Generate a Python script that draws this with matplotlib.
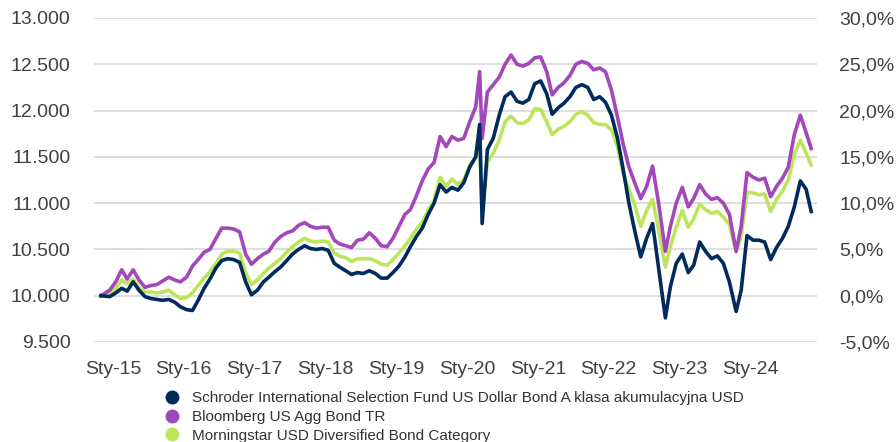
import matplotlib
matplotlib.use("Agg")
import matplotlib.pyplot as plt
from matplotlib.lines import Line2D
from matplotlib.ticker import FuncFormatter, MultipleLocator
import pandas as pd

# ---- data (index values, start = 10 000) ----
dates = ["2014-10-31", "2014-12-15",
         "2015-01-15", "2015-02-15", "2015-03-15", "2015-04-15", "2015-05-15", "2015-06-15",
         "2015-07-15", "2015-08-15", "2015-09-15", "2015-10-15", "2015-11-15", "2015-12-15",
         "2016-01-15", "2016-02-15", "2016-03-15", "2016-04-15", "2016-05-15", "2016-06-15",
         "2016-07-15", "2016-08-15", "2016-09-15", "2016-10-15", "2016-11-15", "2016-12-15",
         "2017-01-15", "2017-02-15", "2017-03-15", "2017-04-15", "2017-05-15", "2017-06-15",
         "2017-07-15", "2017-08-15", "2017-09-15", "2017-10-15", "2017-11-15", "2017-12-15",
         "2018-01-15", "2018-02-15", "2018-03-15", "2018-04-15", "2018-05-15", "2018-06-15",
         "2018-07-15", "2018-08-15", "2018-09-15", "2018-10-15", "2018-11-15", "2018-12-15",
         "2019-01-15", "2019-02-15", "2019-03-15", "2019-04-15", "2019-05-15", "2019-06-15",
         "2019-07-15", "2019-08-15", "2019-09-15", "2019-10-15", "2019-11-15", "2019-12-15",
         "2020-01-15", "2020-02-15", "2020-03-06", "2020-03-19", "2020-04-15", "2020-05-15",
         "2020-06-15", "2020-07-15", "2020-08-15", "2020-09-15", "2020-10-15", "2020-11-15",
         "2020-12-15",
         "2021-01-15", "2021-02-15", "2021-03-15", "2021-04-15", "2021-05-15", "2021-06-15",
         "2021-07-15", "2021-08-15", "2021-09-15", "2021-10-15", "2021-11-15", "2021-12-15",
         "2022-01-15", "2022-02-15", "2022-03-15", "2022-04-15", "2022-05-15", "2022-06-15",
         "2022-07-15", "2022-08-15", "2022-09-15", "2022-10-20", "2022-11-15", "2022-12-15",
         "2023-01-15", "2023-02-15", "2023-03-15", "2023-04-15", "2023-05-15", "2023-06-15",
         "2023-07-15", "2023-08-15", "2023-09-15", "2023-10-20", "2023-11-15", "2023-12-15",
         "2024-01-15", "2024-02-15", "2024-03-15", "2024-04-15", "2024-05-15", "2024-06-15",
         "2024-07-15", "2024-08-15", "2024-09-15", "2024-10-15", "2024-11-10"]

schroder = [10000, 9990,
            10030, 10080, 10050, 10150, 10060, 9990, 9970, 9960, 9950, 9960, 9930, 9880,
            9850, 9840, 9950, 10080, 10180, 10300, 10380, 10400, 10390, 10360, 10150, 10010,
            10060, 10150, 10200, 10260, 10310, 10380, 10450, 10500, 10540, 10510, 10500, 10510,
            10490, 10350, 10310, 10270, 10230, 10250, 10240, 10270, 10240, 10190, 10190, 10250,
            10320, 10420, 10530, 10640, 10730, 10880, 11000, 11200, 11120, 11170, 11140, 11220,
            11390, 11500, 11850, 10780, 11580, 11700, 11950, 12150, 12200, 12100, 12080, 12120,
            12290,
            12320, 12180, 11960, 12030, 12080, 12150, 12250, 12280, 12250, 12120, 12150, 12090,
            11950, 11700, 11380, 11000, 10700, 10420, 10620, 10780, 10300, 9760, 10100, 10350,
            10450, 10250, 10330, 10580, 10480, 10400, 10430, 10350, 10150, 9830, 10060, 10650,
            10600, 10600, 10580, 10390, 10520, 10620, 10750, 10960, 11240, 11150, 10910]

bloomberg = [10000, 10060,
             10150, 10280, 10180, 10280, 10170, 10090, 10110, 10120, 10160, 10200, 10170, 10150,
             10200, 10320, 10390, 10470, 10500, 10620, 10730, 10730, 10720, 10690, 10450, 10340,
             10400, 10450, 10480, 10580, 10640, 10680, 10700, 10760, 10790, 10750, 10730, 10740,
             10740, 10600, 10560, 10540, 10520, 10600, 10610, 10680, 10620, 10540, 10530, 10620,
             10750, 10880, 10930, 11080, 11240, 11370, 11440, 11720, 11610, 11720, 11680, 11700,
             11880, 12040, 12420, 11700, 12200, 12280, 12360, 12500, 12600, 12500, 12480, 12510,
             12570,
             12580, 12420, 12170, 12250, 12300, 12380, 12500, 12530, 12510, 12440, 12460, 12420,
             12220, 11930, 11650, 11390, 11220, 11050, 11180, 11400, 11000, 10480, 10750, 11000,
             11170, 10960, 11050, 11200, 11100, 11040, 11060, 11000, 10880, 10480, 10750, 11330,
             11280, 11250, 11270, 11070, 11180, 11270, 11390, 11740, 11950, 11760, 11590]

morningstar = [10000, 10020,
               10080, 10170, 10130, 10180, 10090, 10040, 10040, 10030, 10040, 10060, 10010, 9970,
               9980, 10030, 10110, 10190, 10260, 10350, 10450, 10480, 10480, 10460, 10250, 10120,
               10170, 10240, 10300, 10350, 10400, 10470, 10530, 10580, 10620, 10590, 10580, 10590,
               10580, 10460, 10430, 10410, 10370, 10400, 10400, 10400, 10380, 10340, 10330, 10390,
               10460, 10540, 10620, 10720, 10790, 10930, 11030, 11280, 11180, 11260, 11200, 11250,
               11410, 11500, 11700, 10880, 11440, 11540, 11680, 11880, 11940, 11870, 11860, 11900,
               12020,
               12010, 11880, 11740, 11800, 11830, 11880, 11960, 11990, 11950, 11870, 11850, 11850,
               11790, 11610, 11330, 11150, 10980, 10750, 10920, 11040, 10720, 10310, 10530, 10740,
               10920, 10740, 10830, 10990, 10930, 10890, 10910, 10850, 10770, 10470, 10640, 11120,
               11110, 11090, 11100, 10910, 11040, 11130, 11250, 11530, 11680, 11540, 11410]

series_names = ["Schroder International Selection Fund US Dollar Bond A klasa akumulacyjna USD",
                "Bloomberg US Agg Bond TR",
                "Morningstar USD Diversified Bond Category"]
series_colors = ["#002b5c", "#a347ba", "#bde55c"]
year_labels = ["Sty-15", "Sty-16", "Sty-17", "Sty-18", "Sty-19",
               "Sty-20", "Sty-21", "Sty-22", "Sty-23", "Sty-24"]

# ---- plotting ----
plt.rcParams['font.family'] = ['Liberation Sans', 'DejaVu Sans']
fig = plt.figure(figsize=(8.96, 4.42), dpi=100)
ax = fig.add_axes([94/896, 1-342/442, (817-94)/896, (342-18)/442])

x = pd.to_datetime(dates)
for vals, col in [(morningstar, series_colors[2]), (bloomberg, series_colors[1]), (schroder, series_colors[0])]:
    ax.plot(x, vals, color=col, lw=2.6, solid_joinstyle='round')

ax.set_ylim(9500, 13000)
ax.yaxis.set_major_locator(MultipleLocator(500))
ax.yaxis.set_major_formatter(FuncFormatter(lambda v, p: f"{v:,.0f}".replace(",", ".")))
ax.set_xlim(pd.Timestamp("2014-09-25"), pd.Timestamp("2024-12-10"))
ticks = pd.to_datetime([f"20{lbl[-2:]}-01-01" for lbl in year_labels])
ax.set_xticks(ticks)
ax.set_xticklabels(year_labels)

ax.grid(axis='y', color='#d9d9d9', lw=1.2)
ax.set_axisbelow(True)
for s in ax.spines.values():
    s.set_visible(False)
ax.tick_params(axis='both', length=0, labelsize=14, labelcolor='#404040')
ax.tick_params(axis='y', pad=17)
ax.tick_params(axis='x', pad=14)

ax2 = ax.twinx()
ax2.set_ylim(-5, 30)
ax2.yaxis.set_major_locator(MultipleLocator(5))
ax2.yaxis.set_major_formatter(FuncFormatter(lambda v, p: f"{v:.1f}%".replace(".", ",")))
for s in ax2.spines.values():
    s.set_visible(False)
ax2.tick_params(axis='y', length=0, labelsize=14, labelcolor='#404040', pad=16)

handles = [Line2D([], [], ls='none', marker='o', ms=9, color=c) for c in series_colors]
fig.legend(handles, series_names, loc='upper left', bbox_to_anchor=(164/896, 1-391/442),
           frameon=False, fontsize=11, labelcolor='#333333', handlelength=1.0,
           handletextpad=0.8, labelspacing=0.32, borderpad=0, borderaxespad=0)

fig.savefig("out.png", dpi=100)
